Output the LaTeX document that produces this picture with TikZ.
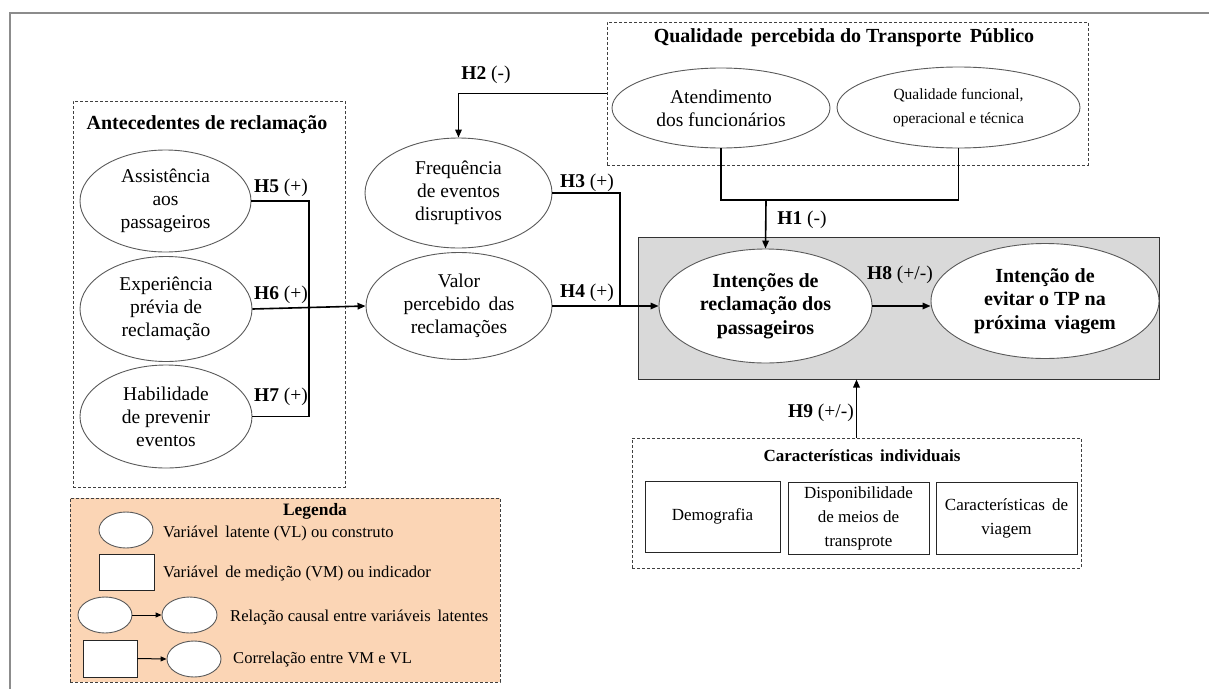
\documentclass[tikz,border=0pt]{standalone}
\usepackage{fontspec}
\setmainfont{Liberation Serif}
\usetikzlibrary{arrows.meta,shapes.geometric}
\definecolor{peach}{RGB}{251,213,181}
\definecolor{lgray}{RGB}{217,217,217}
\definecolor{framegray}{RGB}{140,140,140}
\definecolor{edgegray}{RGB}{90,90,90}
\tikzset{
  lv/.style={ellipse, draw=edgegray, line width=0.9pt, fill=white, inner sep=0pt, align=center, font=\fontsize{19.5}{23}\selectfont},
  lvb/.style={lv, font=\bfseries\fontsize{20}{23.5}\selectfont},
  mv/.style={rectangle, draw=black!85, line width=0.9pt, fill=white, inner sep=0pt, align=center, font=\fontsize{17}{24}\selectfont},
  dbox/.style={rectangle, draw=black!75, dash pattern=on 3pt off 2pt, line width=0.8pt, inner sep=0pt},
  conn/.style={draw=black, line width=1.6pt},
  arr/.style={conn, -{Triangle[length=8pt,width=6.5pt]}},
  thinarr/.style={draw=black, line width=1pt, -{Triangle[length=6pt,width=5pt]}},
  hlab/.style={inner sep=0pt, font=\fontsize{19.5}{23}\selectfont},
  ttl/.style={inner sep=0pt, font=\bfseries\fontsize{20}{23}\selectfont},
  legtxt/.style={inner sep=0pt, anchor=west, font=\fontsize{16.6}{20}\selectfont},
}
\begin{document}
\begin{tikzpicture}[x=1pt,y=-1pt]
\useasboundingbox (0,0) rectangle (1209,688);
% outer frame
\draw[framegray, line width=2pt] (10,690) -- (10,13) -- (1211,13);

% group boxes
\node[dbox, minimum width=272, minimum height=386] (abox) at (209,294) {};
\node[dbox, minimum width=481, minimum height=143] (qbox) at (847.5,93.5) {};
\node[dbox, minimum width=449, minimum height=130] (cbox) at (856.5,503) {};
\node[dbox, fill=peach, minimum width=430, minimum height=184] (lbox) at (285,590) {};
\node[rectangle, draw=black!80, line width=1pt, fill=lgray, minimum width=521, minimum height=142, inner sep=0pt] (gbox) at (898.5,308) {};

% titles
\node[ttl] (tA) at (207,125) {Antecedentes de reclamação};
\node[ttl] (tQ) at (844,38) {Qualidade\, percebida do Transporte\, Público};
\node[ttl, font=\bfseries\fontsize{17}{20}\selectfont] (tC) at (862,456) {Características\, individuais};
\node[ttl, font=\bfseries\fontsize{17.4}{20}\selectfont] (tL) at (315,511) {Legenda};

% latent variables
\node[lv, minimum width=171, minimum height=102] (ass) at (165.5,201) {Assistência\\aos\\passageiros};
\node[lv, minimum width=172, minimum height=105] (exp) at (166,309) {Experiência\\prévia de\\reclamação};
\node[lv, minimum width=172, minimum height=103] (hab) at (166,416.5) {Habilidade\\de prevenir\\eventos};
\node[lv, minimum width=187, minimum height=110] (freq) at (458.5,193) {Frequência\\de eventos\\disruptivos};
\node[lv, minimum width=186, minimum height=107] (val) at (459,306) {Valor\\percebido\, das\\reclamações};
\node[lv, minimum width=218, minimum height=80] (atd) at (721,108) {Atendimento\\dos funcionários};
\node[lv, minimum width=243, minimum height=81, font=\fontsize{15.5}{24}\selectfont] (qf) at (958.5,107.5) {Qualidade funcional,\\operacional e técnica};
\node[lvb, minimum width=213, minimum height=114] (int) at (765.5,306) {Intenções de\\reclamação dos\\passageiros};
\node[lvb, minimum width=228, minimum height=115] (evt) at (1045,301) {Intenção de\\evitar o TP na\\próxima\, viagem};

% measured variables
\node[mv, minimum width=135, minimum height=71] (dem) at (712.5,516.5) {Demografia};
\node[mv, minimum width=141, minimum height=72] (disp) at (858.5,518) {Disponibilidade\\de meios de\\transprote};
\node[mv, minimum width=141, minimum height=72] (carv) at (1006.5,518) {Características\, de\\viagem};

% connectors
\coordinate (jx) at (309,0);
\coordinate (kx) at (620,0);
\draw[conn] (ass.east) -- (ass.east -| jx) -- (hab.east -| jx) -- (hab.east);
\draw[arr] (exp.east) -- (val.west);
\draw[conn] (freq.east) -- (freq.east -| kx) -- (val.east -| kx);
\draw[arr] (val.east) -- (int.west);
\draw[arr] (qbox.west) -| (freq.north);
\coordinate (h1) at (766,200);
\draw[conn] (atd.south) |- (h1);
\draw[conn] (qf.south) |- (h1);
\draw[arr] (h1) -- (int.north);
\draw[arr] (int.east) -- (evt.west |- int.east);
\draw[arr] (cbox.north) -- (cbox.north |- gbox.south);

% hypothesis labels
\node[hlab] (l5) at (281,188) {\textbf{H5} (+)};
\node[hlab] (l6) at (281,295) {\textbf{H6} (+)};
\node[hlab] (l7) at (281,397) {\textbf{H7} (+)};
\node[hlab] (l2) at (486,75) {\textbf{H2} (-)};
\node[hlab] (l3) at (587,183) {\textbf{H3} (+)};
\node[hlab] (l4) at (587,293) {\textbf{H4} (+)};
\node[hlab] (l1) at (802,220) {\textbf{H1} (-)};
\node[hlab] (l8) at (900,275) {\textbf{H8} (+/-)};
\node[hlab] (l9) at (821,413) {\textbf{H9} (+/-)};

% legend
\node[lv, minimum width=54, minimum height=36] (le1) at (126,530) {};
\node[legtxt] (lt1) at (163,533) {Variável\, latente (VL) ou construto};
\node[mv, minimum width=55, minimum height=36] (lr1) at (126.5,572) {};
\node[legtxt] (lt2) at (163,573) {Variável\, de medição (VM) ou indicador};
\node[lv, minimum width=54, minimum height=36] (le2) at (105,615) {};
\node[lv, minimum width=55, minimum height=36] (le3) at (189.5,615) {};
\draw[thinarr] (le2.east) -- (le3.west);
\node[legtxt] (lt3) at (230,617) {Relação causal entre variáveis\, latentes};
\node[mv, minimum width=54, minimum height=37] (lr2) at (110,658.5) {};
\node[lv, minimum width=54, minimum height=36] (le4) at (194,659) {};
\draw[thinarr] (lr2.east) -- (le4.west);
\node[legtxt] (lt4) at (233,659) {Correlação entre VM e VL};
\end{tikzpicture}
\end{document}
